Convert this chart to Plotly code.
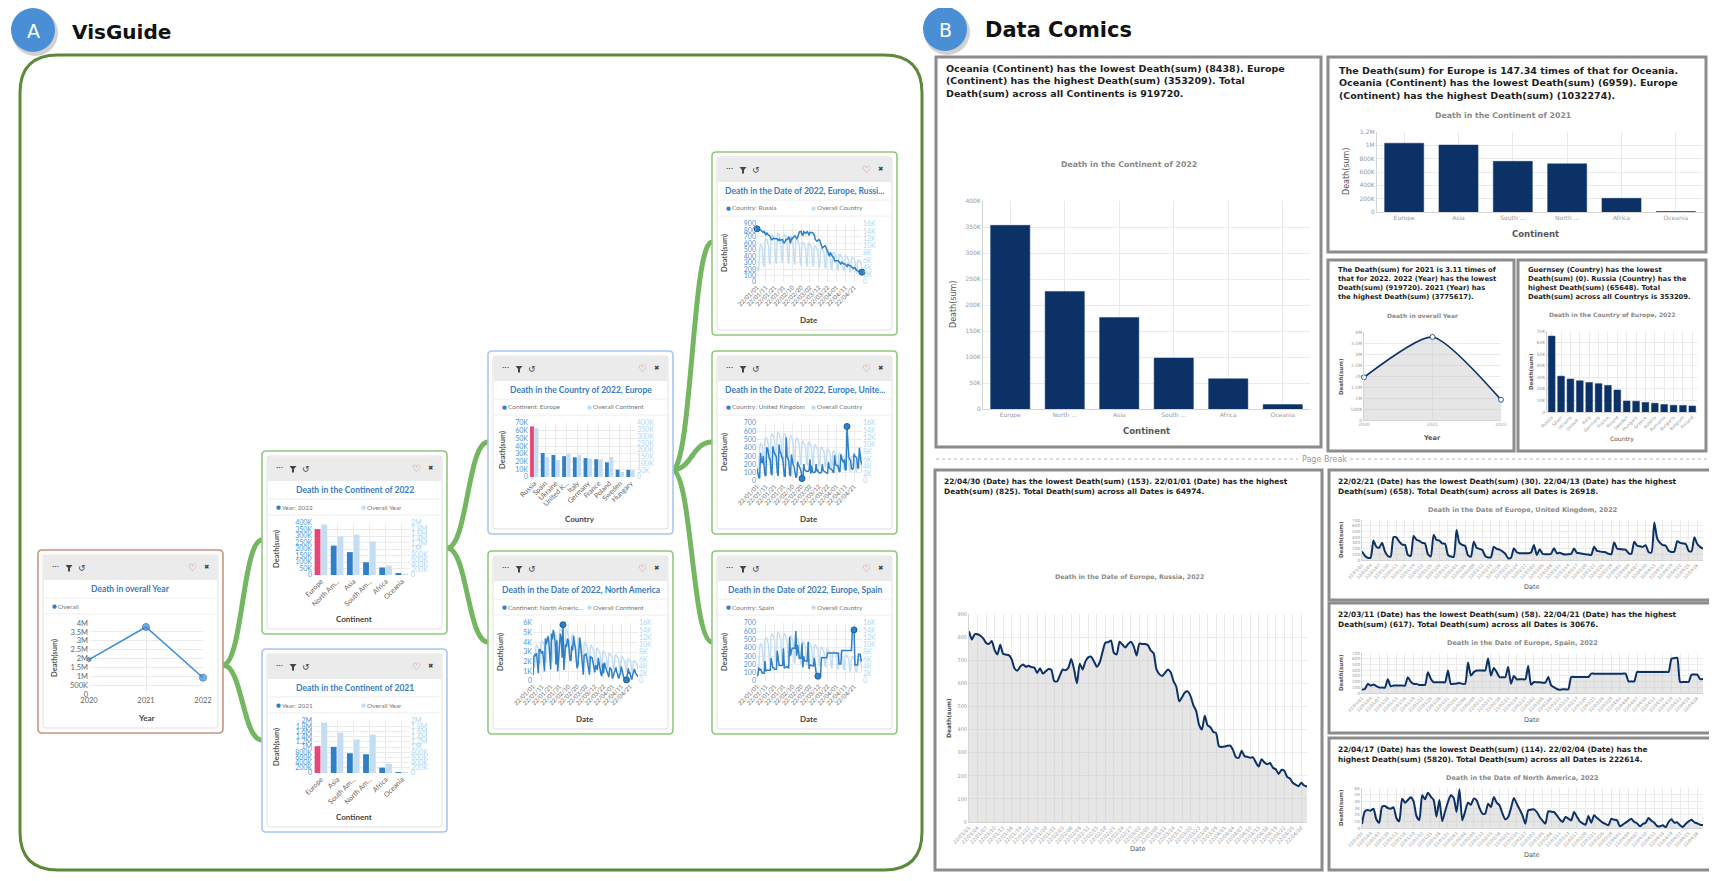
import numpy as np
import pandas as pd
import plotly.graph_objects as go

W, H = 1717, 881
# the page body keeps its default 8px margin, so the figure is drawn 8px in
OFF = 8
FW, FH = W - OFF, H - OFF

# ------------------------------------------------------------------ data
years = ['2020', '2021', '2022']
deaths_year = [1940000, 3775617, 919720]

cont_2022 = ['Europe', 'North Am...', 'Asia', 'South Am...', 'Africa', 'Oceania']
cont_2022_short = ['Europe', 'North ...', 'Asia', 'South ...', 'Africa', 'Oceania']
deaths_cont_2022 = [353209, 226000, 176000, 98000, 58073, 8438]
overall_cont_2022 = [1940000, 1480000, 1550000, 1290000, 360000, 25000]

cont_2021 = ['Europe', 'Asia', 'South Am...', 'North Am...', 'Africa', 'Oceania']
cont_2021_short = ['Europe', 'Asia', 'South ...', 'North ...', 'Africa', 'Oceania']
deaths_cont_2021 = [1032274, 1005000, 760000, 722000, 205000, 6959]
overall_cont_2021 = [1940000, 1550000, 1290000, 1480000, 360000, 25000]

countries_card = ['Russia', 'Spain', 'Ukraine', 'United K...', 'Italy', 'Germany',
                  'France', 'Poland', 'Sweden', 'Hungary']
deaths_country_card = [65648, 31000, 28500, 27000, 25500, 24500, 23000, 19000, 9500, 9300]
overall_country_card = [362000, 148000, 125000, 172000, 162000, 137000, 131000, 148000, 37000, 50000]

countries_comic = ['Russia', 'Spain', 'Ukraine', 'United...', 'Italy', 'Germany', 'France',
                   'Poland', 'Sweden', 'Hungary', 'Greece', 'Austria', 'Romania',
                   'Bulgaria', 'Belgium', 'Finland']
deaths_country_comic = [65648, 31000, 28500, 27000, 25500, 24500, 23000, 19000, 9500, 9300,
                        8300, 7600, 6500, 5800, 5700, 5200]

dates = pd.date_range('2022-01-01', '2022-04-30', freq='D')

russia = [825, 790, 812, 812, 806, 795, 775, 770, 783, 745,
          725, 767, 728, 724, 722, 705, 665, 655, 672, 682,
          672, 676, 670, 668, 645, 665, 642, 652, 662, 658,
          610, 608, 635, 660, 657, 668, 705, 660, 600, 685,
          660, 695, 712, 715, 695, 672, 690, 735, 776, 778,
          785, 732, 725, 780, 768, 755, 770, 780, 760, 720,
          772, 770, 770, 765, 742, 730, 660, 640, 632, 645,
          660, 648, 610, 585, 522, 540, 560, 565, 545, 505,
          480, 420, 400, 460, 418, 410, 390, 385, 328, 325,
          327, 330, 330, 310, 280, 278, 308, 285, 282, 278,
          280, 258, 240, 272, 258, 250, 255, 235, 228, 208,
          225, 222, 195, 188, 170, 162, 155, 170, 158, 153]

uk = [150, 75, 40, 40, 340, 230, 215, 300, 150, 70,
      60, 400, 395, 320, 270, 265, 90, 70, 420, 355,
      335, 300, 290, 100, 60, 440, 350, 340, 290, 285,
      90, 60, 55, 527, 300, 265, 245, 80, 58, 320,
      215, 195, 175, 70, 45, 50, 234, 195, 180, 150,
      110, 30, 40, 205, 135, 120, 117, 117, 117, 130,
      263, 88, 187, 110, 100, 100, 110, 205, 117, 128,
      105, 95, 100, 105, 200, 125, 120, 110, 100, 95,
      90, 230, 160, 150, 140, 135, 110, 100, 310, 200,
      190, 185, 180, 120, 110, 320, 250, 240, 230, 260,
      140, 130, 658, 380, 300, 260, 250, 160, 140, 150,
      330, 300, 290, 280, 160, 150, 400, 280, 230, 200]

spain = [59, 70, 160, 130, 147, 120, 95, 95, 95, 240,
         118, 130, 130, 130, 130, 130, 276, 200, 160, 160,
         141, 141, 141, 365, 250, 188, 188, 188, 188, 188,
         394, 160, 160, 165, 176, 160, 160, 532, 306, 365,
         394, 394, 394, 394, 604, 306, 438, 365, 276, 276,
         276, 456, 164, 298, 240, 240, 240, 240, 474, 146,
         193, 188, 188, 181, 181, 280, 134, 100, 70, 58,
         64, 64, 64, 280, 280, 280, 280, 280, 280, 280,
         339, 339, 339, 339, 339, 339, 339, 339, 339, 339,
         339, 339, 339, 204, 204, 204, 368, 368, 368, 368,
         368, 368, 368, 368, 368, 368, 368, 368, 600, 610,
         617, 193, 193, 193, 193, 322, 322, 322, 243, 243]

north_america = [600, 2500, 2700, 2600, 2900, 1300, 800, 3200, 3300, 3000,
                 2900, 3100, 1500, 1000, 4400, 3800, 4200, 4600, 4000, 1800,
                 1200, 4900, 4300, 5300, 4700, 4200, 1700, 4200, 1000, 2500,
                 3900, 4900, 4500, 2400, 5820, 1150, 2500, 3800, 3500, 4400,
                 4150, 3000, 2150, 2150, 3650, 3150, 4650, 3800, 3400, 2200,
                 1300, 1650, 3000, 4500, 3650, 2800, 1900, 650, 2650, 2750,
                 2800, 2400, 1650, 1100, 650, 2500, 2450, 2400, 1900, 1300,
                 900, 1650, 1400, 1150, 2400, 1700, 1000, 700, 500, 1800,
                 800, 1900, 1500, 1150, 800, 600, 400, 1400, 1250, 1150,
                 250, 500, 800, 1100, 1400, 900, 700, 250, 600, 800,
                 1500, 1100, 800, 300, 250, 400, 114, 900, 1300, 800,
                 850, 400, 150, 650, 1000, 1250, 850, 700, 500, 450]

europe_total = [4000, 3500, 3000, 9000, 10500, 10000, 9800, 5000, 4200, 11500,
                12000, 11800, 11000, 10000, 5500, 4800, 12500, 13000, 12800, 12000,
                11000, 6000, 5000, 13000, 13500, 13000, 12000, 11500, 6000, 5200,
                12500, 13000, 12800, 12000, 11000, 5800, 5000, 12000, 12500, 12300,
                11500, 10500, 5500, 4800, 11500, 12000, 11500, 10800, 10000, 5200,
                4500, 10800, 11000, 10500, 10000, 9500, 5000, 4300, 10500, 10800,
                10400, 10000, 9200, 4800, 4200, 9800, 10000, 9600, 9000, 8500,
                4500, 4000, 9000, 9300, 9000, 8500, 8000, 4200, 3800, 8500,
                8800, 8500, 8000, 7500, 4000, 3500, 8000, 8200, 7800, 7300,
                7000, 3600, 3200, 7500, 7700, 7300, 6900, 6500, 3300, 3000,
                7000, 7200, 6900, 6500, 6000, 3000, 2700, 6500, 6800, 6400,
                6000, 5700, 2800, 2500, 6000, 6200, 5800, 5500, 5200, 2600]

world_total = [5000, 4000, 3500, 9000, 10000, 9500, 9000, 5500, 4500, 10500,
               11000, 10800, 10500, 9500, 6000, 5000, 12000, 12500, 12300, 11800,
               10500, 6500, 5500, 13000, 13500, 13200, 12500, 11500, 7000, 6000,
               13500, 14500, 14000, 13500, 12500, 7500, 6500, 13500, 14000, 13500,
               12800, 11500, 7000, 6000, 12500, 13000, 12500, 11800, 10500, 6500,
               5500, 11500, 11800, 11200, 10500, 9800, 6000, 5000, 10500, 10800,
               10200, 9800, 9000, 5500, 4500, 9500, 9800, 9300, 8800, 8200,
               5000, 4200, 8800, 9000, 8600, 8000, 7500, 4500, 3800, 8000,
               8200, 7800, 7300, 6800, 4200, 3500, 7500, 7600, 7200, 6800,
               6500, 3800, 3200, 7000, 7200, 6800, 6400, 6000, 3500, 3000,
               6500, 6700, 6300, 6000, 5500, 3200, 2800, 6000, 6200, 5800,
               5400, 5000, 3000, 2600, 5500, 5600, 5200, 4900, 4600, 2800]

NAVY = '#0b3166'
DARK = '#2f80c6'
LIGHT = '#c4ddf2'
PINK = '#e8467a'
GREEN = '#74b662'

# ------------------------------------------------------------------ helpers
def X(x):
    return (x - OFF) / FW


def Y(y):
    return 1 - (y - OFF) / FH


shapes, notes, axes = [], [], {}
count = {'x': 0, 'y': 0}
fig = go.Figure()


def rect(x0, y0, x1, y1, line=None, width=1, fill=None, r=0, layer='below'):
    if r:
        path = (f"M {X(x0 + r)},{Y(y0)} L {X(x1 - r)},{Y(y0)} Q {X(x1)},{Y(y0)} {X(x1)},{Y(y0 + r)} "
                f"L {X(x1)},{Y(y1 - r)} Q {X(x1)},{Y(y1)} {X(x1 - r)},{Y(y1)} "
                f"L {X(x0 + r)},{Y(y1)} Q {X(x0)},{Y(y1)} {X(x0)},{Y(y1 - r)} "
                f"L {X(x0)},{Y(y0 + r)} Q {X(x0)},{Y(y0)} {X(x0 + r)},{Y(y0)} Z")
        s = dict(type='path', path=path)
    else:
        s = dict(type='rect', x0=X(x0), x1=X(x1), y0=Y(y1), y1=Y(y0))
    s.update(xref='paper', yref='paper', layer=layer,
             line=dict(color=line or 'rgba(0,0,0,0)', width=width if line else 0),
             fillcolor=fill or 'rgba(0,0,0,0)')
    shapes.append(s)


def hline(x0, x1, y, color, width=1, dash='solid'):
    shapes.append(dict(type='line', xref='paper', yref='paper', layer='below',
                       x0=X(x0), x1=X(x1), y0=Y(y), y1=Y(y),
                       line=dict(color=color, width=width, dash=dash)))


def curve(x0, y0, x1, y1):
    xm = (x0 + x1) / 2
    shapes.append(dict(type='path', xref='paper', yref='paper', layer='below',
                       path=f"M {X(x0)},{Y(y0)} C {X(xm)},{Y(y0)} {X(xm)},{Y(y1)} {X(x1)},{Y(y1)}",
                       line=dict(color=GREEN, width=5)))


def circle(cx, cy, r, fill):
    shapes.append(dict(type='circle', xref='paper', yref='paper', layer='below',
                       x0=X(cx - r), x1=X(cx + r), y0=Y(cy + r), y1=Y(cy - r),
                       line=dict(width=0), fillcolor=fill))


def text(x, y, s, size=8, color='#333', bold=False, family='Lato', xanchor='left',
         yanchor='middle', angle=0):
    if bold:
        s = '<b>' + s + '</b>'
    notes.append(dict(x=X(x), y=Y(y), xref='paper', yref='paper', text=s, showarrow=False,
                      font=dict(family=family, size=size, color=color), xanchor=xanchor,
                      yanchor=yanchor, textangle=angle, align='left', borderpad=0))


def kfmt(v):
    if v >= 1e6:
        return f'{v / 1e6:g}M'
    if v >= 1e3:
        return f'{v / 1e3:g}K'
    return f'{v:g}'


def kticks(step, top):
    vals = list(np.arange(0, top + step / 2, step))
    return dict(tickvals=vals, ticktext=[kfmt(v) for v in vals], range=[0, top])


def style(o):
    d = dict(showgrid=True, gridcolor='#ebebeb', gridwidth=1, zeroline=False, showline=False,
             ticks='', automargin=False, fixedrange=True,
             tickfont=dict(family='Lato', size=7, color='#666'))
    d.update(o)
    return d


def grid_axes(x0, y0, x1, y1, xopt, yopt, y2opt=None):
    count['x'] += 1
    count['y'] += 1
    xr = 'x' if count['x'] == 1 else f"x{count['x']}"
    yr = 'y' if count['y'] == 1 else f"y{count['y']}"
    axes['xaxis' + xr[1:]] = dict(domain=[X(x0), X(x1)], anchor=yr, **style(xopt))
    axes['yaxis' + yr[1:]] = dict(domain=[Y(y1), Y(y0)], anchor=xr, **style(yopt))
    y2r = None
    if y2opt is not None:
        count['y'] += 1
        y2r = f"y{count['y']}"
        axes['yaxis' + y2r[1:]] = dict(overlaying=yr, anchor=xr, **style(y2opt))
    return xr, yr, y2r


def funnel(cx, cy):
    shapes.append(dict(type='path', xref='paper', yref='paper', layer='above',
                       path=(f"M {X(cx - 3.5)},{Y(cy - 3)} L {X(cx + 3.5)},{Y(cy - 3)} "
                             f"L {X(cx + 1)},{Y(cy)} L {X(cx + 1)},{Y(cy + 3.5)} "
                             f"L {X(cx - 1)},{Y(cy + 3.5)} L {X(cx - 1)},{Y(cy)} Z"),
                       fillcolor='#444', line=dict(width=0)))


# ------------------------------------------------------------------ VisGuide cards
def card(x0, y0, border, title, leg1, leg2=None):
    x1, y1 = x0 + 185, y0 + 183
    rect(x0, y0, x1, y1, line=border, width=1.6, fill='white', r=4)
    rect(x0 + 5, y0 + 5, x1 - 5, y1 - 5, line='#e0e0e0', width=1, fill='white', r=3)
    rect(x0 + 6, y0 + 6, x1 - 6, y0 + 30, fill='#ebebeb')
    text(x0 + 17, y0 + 16, '•••', size=4, color='#444', family='DejaVu Sans', xanchor='center')
    funnel(x0 + 31, y0 + 18)
    text(x0 + 44, y0 + 18, '↺', size=9, color='#444', family='DejaVu Sans', xanchor='center')
    text(x1 - 31, y0 + 17, '♡', size=10, color='#e0404f', family='DejaVu Sans', xanchor='center')
    text(x1 - 17, y0 + 17, '✖', size=6.5, color='#444', family='DejaVu Sans', xanchor='center')
    text((x0 + x1) / 2, y0 + 39, title, size=8.5, color='#3a7cc0', bold=True, xanchor='center')
    hline(x0 + 6, x1 - 6, y0 + 48, '#eeeeee')
    text(x0 + 16, y0 + 56, '●', size=5.5, color=DARK, family='DejaVu Sans', xanchor='center')
    text(x0 + 19, y0 + 56, leg1, size=6.5, color='#777')
    if leg2:
        text(x0 + 101, y0 + 56, '●', size=5.5, color=LIGHT, family='DejaVu Sans', xanchor='center')
        text(x0 + 104, y0 + 56, leg2, size=6.5, color='#777')
    hline(x0 + 6, x1 - 6, y0 + 64, '#eeeeee')


def bar_card(x0, y0, border, title, leg1, leg2, cats, vals, overall, left, right, rel, xtitle):
    card(x0, y0, border, title, leg1, leg2)
    xr, yr, y2r = grid_axes(
        x0 + rel[0], y0 + rel[1], x0 + rel[2], y0 + rel[3],
        dict(type='category', tickangle=-45, range=[-0.5, len(cats) - 0.5],
             tickfont=dict(family='Lato', size=7, color='#666')),
        dict(side='left', tickfont=dict(family='Lato', size=7, color='#4a9ad8'), **kticks(*left)),
        dict(side='right', showgrid=False, tickfont=dict(family='Lato', size=7, color='#b5d5ef'),
             **kticks(*right)))
    fig.add_trace(go.Bar(x=cats, y=vals, xaxis=xr, yaxis=yr, width=0.36, offset=-0.4,
                         marker=dict(color=[PINK] + [DARK] * (len(cats) - 1), line_width=0)))
    fig.add_trace(go.Bar(x=cats, y=overall, xaxis=xr, yaxis=y2r, width=0.36, offset=0.02,
                         marker=dict(color=LIGHT, line_width=0)))
    text(x0 + 14, y0 + (rel[1] + rel[3]) / 2, 'Death(sum)', size=7.5, color='#555', bold=True,
         xanchor='center', angle=-90)
    text(x0 + 92, y0 + 168, xtitle, size=8, color='#444', bold=True, xanchor='center')


def date_card(x0, y0, border, title, leg1, leg2, series, overall, left):
    card(x0, y0, border, title, leg1, leg2)
    xr, yr, y2r = grid_axes(
        x0 + 45, y0 + 72, x0 + 150, y0 + 130,
        dict(type='date', range=[dates[0], dates[-1]], tick0=dates[0], dtick=10 * 86400000,
             tickformat='%y/%m/%d', tickangle=-45,
             tickfont=dict(family='Lato', size=6, color='#666')),
        dict(side='right', showgrid=False, tickfont=dict(family='Lato', size=7, color='#b5d5ef'),
             **kticks(2000, 16000)),
        dict(side='left', tickfont=dict(family='Lato', size=7, color='#4a9ad8'), **kticks(*left)))
    fig.add_trace(go.Scatter(x=dates, y=overall, xaxis=xr, yaxis=yr, mode='lines',
                             line=dict(color=LIGHT, width=1.4)))
    fig.add_trace(go.Scatter(x=dates, y=series, xaxis=xr, yaxis=y2r, mode='lines',
                             line=dict(color=DARK, width=1.5)))
    ext = [int(np.argmax(series)), int(np.argmin(series))]
    fig.add_trace(go.Scatter(x=dates[ext], y=np.array(series)[ext], xaxis=xr, yaxis=y2r,
                             mode='markers', cliponaxis=False,
                             marker=dict(color=DARK, size=6, line=dict(color='#1f5f9a', width=1))))
    text(x0 + 12, y0 + 101, 'Death(sum)', size=7.5, color='#555', bold=True,
         xanchor='center', angle=-90)
    text(x0 + 97, y0 + 168, 'Date', size=8, color='#444', bold=True, xanchor='center')


# headings
circle(35, 33, 23, 'rgba(0,0,0,0.18)')
circle(33, 30, 22, '#4a8ed6')
text(33, 31, 'A', size=19, color='white', family='DejaVu Sans', xanchor='center')
text(71, 32, 'VisGuide', size=20, color='#111', bold=True, family='DejaVu Sans')
circle(947, 32, 23, 'rgba(0,0,0,0.18)')
circle(945, 29, 22, '#4a8ed6')
text(945, 30, 'B', size=19, color='white', family='DejaVu Sans', xanchor='center')
text(984, 30, 'Data Comics', size=21, color='#111', bold=True, family='DejaVu Sans')

rect(20, 55, 922, 870, line='#5b8a3a', width=3, r=38)

curve(223, 665, 262, 540)
curve(223, 665, 262, 740)
curve(447, 548, 488, 442)
curve(447, 548, 488, 642)
curve(672, 470, 712, 242)
curve(672, 470, 712, 442)
curve(672, 470, 712, 642)

# overall year card
card(38, 550, '#c9957c', 'Death in overall Year', 'Overall')
xr, yr, _ = grid_axes(89, 623, 203, 694,
                      dict(type='category', range=[0, 2],
                           tickfont=dict(family='Lato', size=7.5, color='#666')),
                      dict(tickfont=dict(family='Lato', size=7.5, color='#666'),
                           **kticks(500000, 4000000)))
fig.add_trace(go.Scatter(x=years, y=deaths_year, xaxis=xr, yaxis=yr, mode='lines+markers',
                         cliponaxis=False, line=dict(color='#3a8fd8', width=1.5),
                         marker=dict(color='#3a8fd8', size=[4, 7, 7],
                                     line=dict(color='#1f5f9a', width=1))))
text(54, 658, 'Death(sum)', size=7.5, color='#555', bold=True, xanchor='center', angle=-90)
text(146, 718, 'Year', size=8, color='#444', bold=True, xanchor='center')

bar_card(262, 451, '#8fc97f', 'Death in the Continent of 2022', 'Year: 2022', 'Overall Year',
         cont_2022, deaths_cont_2022, overall_cont_2022, (50000, 400000), (200000, 2000000),
         (51, 72, 148, 124), 'Continent')
bar_card(262, 649, '#a9c6f2', 'Death in the Continent of 2021', 'Year: 2021', 'Overall Year',
         cont_2021, deaths_cont_2021, overall_cont_2021, (200000, 2000000), (200000, 2000000),
         (51, 72, 148, 124), 'Continent')
bar_card(488, 351, '#a9c6f2', 'Death in the Country of 2022, Europe', 'Continent: Europe',
         'Overall Continent', countries_card, deaths_country_card, overall_country_card,
         (10000, 70000), (50000, 400000), (41, 72, 148, 126), 'Country')

date_card(488, 551, '#8fc97f', 'Death in the Date of 2022, North America',
          'Continent: North Americ...', 'Overall Continent', north_america, world_total, (1000, 6000))
date_card(712, 152, '#8fc97f', 'Death in the Date of 2022, Europe, Russi...', 'Country: Russia',
          'Overall Country', russia, europe_total, (100, 900))
date_card(712, 351, '#8fc97f', 'Death in the Date of 2022, Europe, Unite...',
          'Country: United Kingdom', 'Overall Country', uk, europe_total, (100, 700))
date_card(712, 551, '#8fc97f', 'Death in the Date of 2022, Europe, Spain', 'Country: Spain',
          'Overall Country', spain, europe_total, (100, 700))

# ------------------------------------------------------------------ Data Comics panels
PANEL = '#8c8c8c'
TXT = dict(family='DejaVu Sans', color='#1e1e1e', bold=True, yanchor='top')
TITLE = dict(family='DejaVu Sans', color='#8a8a8a', bold=True, xanchor='center')
small = lambda s: dict(family='DejaVu Sans', size=s, color='#9a9a9a')


def comic_box(x0, y0, x1, y1, lines, size, tx, ty):
    rect(x0, y0, x1, y1, line=PANEL, width=3, fill='white')
    text(tx, ty, '<br>'.join(lines), size=size, **TXT)


def comic_bars(dom, cats, vals, left, tick_size, angle=0):
    xr, yr, _ = grid_axes(*dom,
                          dict(type='category', tickangle=angle, range=[-0.5, len(cats) - 0.5],
                               tickfont=small(tick_size), showline=True, linecolor='#d5d5d5'),
                          dict(tickfont=small(tick_size), showline=True, linecolor='#d5d5d5',
                               **kticks(*left)))
    fig.add_trace(go.Bar(x=cats, y=vals, xaxis=xr, yaxis=yr, width=0.72,
                         marker=dict(color=NAVY, line=dict(color='#163f77', width=0.5))))


def comic_line(dom, series, left, tick_size, dtick_days, xcats=None):
    if xcats is None:
        xopt = dict(type='date', range=[dates[0], dates[-1]], tick0=dates[0],
                    dtick=dtick_days * 86400000, tickformat='%y/%m/%d', tickangle=-45,
                    tickfont=small(tick_size), showline=True, linecolor='#d5d5d5')
        xs = dates
    else:
        xopt = dict(type='category', range=[0, len(xcats) - 1], tickfont=small(tick_size),
                    showline=True, linecolor='#d5d5d5')
        xs = xcats
    xr, yr, _ = grid_axes(*dom, xopt,
                          dict(tickfont=small(tick_size), showline=True, linecolor='#d5d5d5',
                               **kticks(*left)))
    fig.add_trace(go.Scatter(x=xs, y=series, xaxis=xr, yaxis=yr,
                             mode='lines+markers' if xcats is not None else 'lines',
                             cliponaxis=False, fill='tozeroy', fillcolor='rgba(200,200,200,0.45)',
                             line=dict(color=NAVY, width=2 if xcats is None else 1.6,
                                       shape='spline', smoothing=0.6),
                             marker=dict(color='white', size=5, line=dict(color='#2b5a95', width=1))))
    return xr


# P1
comic_box(936, 57, 1321, 447,
          ['Oceania (Continent) has the lowest Death(sum) (8438). Europe',
           '(Continent) has the highest Death(sum) (353209). Total',
           'Death(sum) across all Continents is 919720.'], 9.5, 945, 62)
text(1129, 164, 'Death in the Continent of 2022', size=7.8, **TITLE)
comic_bars((983, 201, 1310, 409), cont_2022_short, deaths_cont_2022, (50000, 400000), 6)
text(953, 305, 'Death(sum)', size=8, color='#555', family='DejaVu Sans', xanchor='center', angle=-90)
text(1146, 431, 'Continent', size=8.5, color='#555', family='DejaVu Sans', bold=True, xanchor='center')

# P2
comic_box(1328, 57, 1706, 252,
          ['The Death(sum) for Europe is 147.34 times of that for Oceania.',
           'Oceania (Continent) has the lowest Death(sum) (6959). Europe',
           '(Continent) has the highest Death(sum) (1032274).'], 9.5, 1338, 64)
text(1503, 115, 'Death in the Continent of 2021', size=7.8, **TITLE)
comic_bars((1377, 132, 1703, 212), cont_2021_short, deaths_cont_2021, (200000, 1200000), 6)
text(1346, 172, 'Death(sum)', size=8, color='#555', family='DejaVu Sans', xanchor='center', angle=-90)
text(1535, 234, 'Continent', size=8.5, color='#555', family='DejaVu Sans', bold=True, xanchor='center')

# P3
comic_box(1328, 260, 1514, 451,
          ['The Death(sum) for 2021 is 3.11 times of',
           'that for 2022. 2022 (Year) has the lowest',
           'Death(sum) (919720). 2021 (Year) has',
           'the highest Death(sum) (3775617).'], 6.8, 1337, 265)
text(1422, 315, 'Death in overall Year', size=6, **TITLE)
comic_line((1364, 332, 1501, 420), deaths_year, (500000, 4000000), 4.5, None, xcats=years)
text(1341, 377, 'Death(sum)', size=5.5, color='#555', family='DejaVu Sans', bold=True,
     xanchor='center', angle=-90)
text(1432, 438, 'Year', size=6.5, color='#555', family='DejaVu Sans', bold=True, xanchor='center')

# P4
comic_box(1518, 260, 1706, 451,
          ['Guernsey (Country) has the lowest',
           'Death(sum) (0). Russia (Country) has the',
           'highest Death(sum) (65648). Total',
           'Death(sum) across all Countrys is 353209.'], 6.8, 1527, 265)
text(1612, 315, 'Death in the Country of Europe, 2022', size=6, **TITLE)
comic_bars((1547, 331, 1697, 412), countries_comic, deaths_country_comic, (10000, 70000), 4.5, -45)
text(1531, 372, 'Death(sum)', size=5.5, color='#555', family='DejaVu Sans', bold=True,
     xanchor='center', angle=-90)
text(1622, 439, 'Country', size=6, color='#555', family='DejaVu Sans', xanchor='center')

# page break
hline(936, 1298, 459, '#b8b8b8', dash='dot')
hline(1350, 1712, 459, '#b8b8b8', dash='dot')
text(1324, 459, 'Page Break', size=8, color='#9a9a9a', family='DejaVu Sans', xanchor='center')

# big Russia panel
comic_box(935, 470, 1322, 870,
          ['22/04/30 (Date) has the lowest Death(sum) (153). 22/01/01 (Date) has the highest',
           'Death(sum) (825). Total Death(sum) across all Dates is 64974.'], 7.4, 943, 476)
text(1129, 577, 'Death in the Date of Europe, Russia, 2022', size=6.3, **TITLE)
comic_line((969, 614, 1307, 822), russia, (100, 900), 5, 3)
text(948, 718, 'Death(sum)', size=6, color='#555', family='DejaVu Sans', bold=True,
     xanchor='center', angle=-90)
text(1138, 849, 'Date', size=6.5, color='#555', family='DejaVu Sans', xanchor='center')

# right column date panels
right_panels = [
    (470, 600, ['22/02/21 (Date) has the lowest Death(sum) (30). 22/04/13 (Date) has the highest',
                'Death(sum) (658). Total Death(sum) across all Dates is 26918.'],
     'Death in the Date of Europe, United Kingdom, 2022', uk, (100, 700)),
    (603, 733, ['22/03/11 (Date) has the lowest Death(sum) (58). 22/04/21 (Date) has the highest',
                'Death(sum) (617). Total Death(sum) across all Dates is 30676.'],
     'Death in the Date of Europe, Spain, 2022', spain, (100, 700)),
    (738, 870, ['22/04/17 (Date) has the lowest Death(sum) (114). 22/02/04 (Date) has the',
                'highest Death(sum) (5820). Total Death(sum) across all Dates is 222614.'],
     'Death in the Date of North America, 2022', north_america, (1000, 6000)),
]
for top, bottom, lines, title, series, left in right_panels:
    comic_box(1329, top, 1712, bottom, lines, 7.4, 1337, top + 6)
    text(1522, top + 40, title, size=6.5, **TITLE)
    comic_line((1362, top + 50, 1703, top + 90), series, left, 4.3, 3)
    text(1341, top + 70, 'Death(sum)', size=5.5, color='#555', family='DejaVu Sans', bold=True,
         xanchor='center', angle=-90)
    text(1532, top + 117, 'Date', size=6.5, color='#555', family='DejaVu Sans', xanchor='center')

fig.update_layout(width=FW, height=FH, autosize=False, template='none',
                  margin=dict(l=0, r=0, t=0, b=0, pad=0),
                  paper_bgcolor='white', plot_bgcolor='rgba(0,0,0,0)',
                  showlegend=False, barmode='overlay', bargap=0.2,
                  shapes=shapes, annotations=notes, **axes)
fig.write_html("out.html")
